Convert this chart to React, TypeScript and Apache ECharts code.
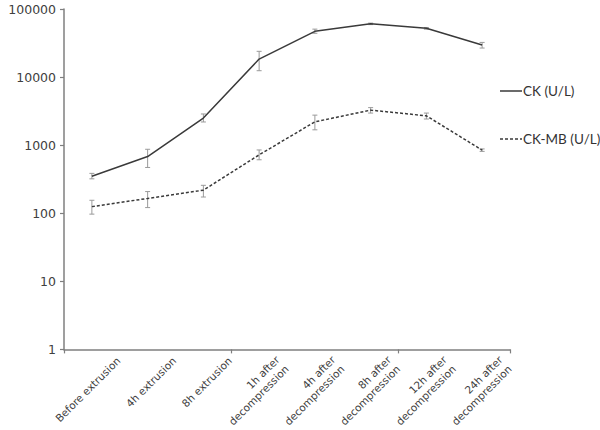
import React, { useEffect, useRef } from "react";
import * as echarts from "echarts";

const categories = [
  "Before extrusion",
  "4h extrusion",
  "8h extrusion",
  "1h after\ndecompression",
  "4h after\ndecompression",
  "8h after\ndecompression",
  "12h after\ndecompression",
  "24h after\ndecompression",
];
const ckValues = [350, 680, 2500, 18400, 47000, 60500, 52000, 29500];
const ckLow = [320, 470, 2190, 12400, 44000, 59000, 50500, 26700];
const ckHigh = [385, 870, 2870, 23900, 50600, 62000, 53500, 32300];
const mbValues = [125, 165, 218, 720, 2200, 3270, 2700, 845];
const mbLow = [97, 121, 173, 610, 1680, 2960, 2420, 810];
const mbHigh = [155, 208, 257, 850, 2760, 3560, 2960, 880];
const yTicks = [1, 10, 100, 1000, 10000, 100000];
const legendNames = ["CK (U/L)", "CK-MB (U/L)"];

const AXIS = "#7f7f7f";
const LINE = "#3a3a3a";
const ERR = "#9a9a9a";
const LABEL_FONT = { fontFamily: "DejaVu Sans", fontSize: 10.5, lineHeight: 13, color: "#404040" };

function errorSeries(low: number[], high: number[]) {
  return {
    type: "custom",
    silent: true,
    z: 1,
    encode: { x: 0, y: [1, 2] },
    data: low.map((l, i) => [i, l, high[i]]),
    renderItem: (params: any, api: any) => {
      const x = api.value(0);
      const lo = api.coord([x, api.value(1)]);
      const hi = api.coord([x, api.value(2)]);
      const w = 2.5;
      const style = { stroke: ERR, lineWidth: 1 };
      return {
        type: "group",
        children: [
          { type: "line", shape: { x1: lo[0], y1: lo[1], x2: hi[0], y2: hi[1] }, style },
          { type: "line", shape: { x1: lo[0] - w, y1: lo[1], x2: lo[0] + w, y2: lo[1] }, style },
          { type: "line", shape: { x1: hi[0] - w, y1: hi[1], x2: hi[0] + w, y2: hi[1] }, style },
        ],
      };
    },
  };
}

export default function App() {
  const ref = useRef<HTMLDivElement>(null);
  useEffect(() => {
    if (!ref.current) return;
    const chart = echarts.init(ref.current, undefined, { renderer: "svg" });
    chart.setOption({
      animation: false,
      backgroundColor: "#ffffff",
      grid: { left: 64, right: 90, top: 9, bottom: 80, containLabel: false },
      graphic: [
        {
          type: "line",
          shape: { x1: 500, y1: 91, x2: 522, y2: 91 },
          style: { stroke: LINE, lineWidth: 1.5 },
        },
        {
          type: "text",
          x: 523,
          y: 91,
          style: { text: legendNames[0], fontFamily: "Lato", fontSize: 13.5, fill: "#333", verticalAlign: "middle" },
        },
        {
          type: "line",
          shape: { x1: 500, y1: 139, x2: 522, y2: 139 },
          style: { stroke: LINE, lineWidth: 1.5, lineDash: [3, 2] },
        },
        {
          type: "text",
          x: 523,
          y: 139,
          style: { text: legendNames[1], fontFamily: "Lato", fontSize: 13.5, fill: "#333", verticalAlign: "middle" },
        },
      ],
      xAxis: [
        {
          type: "category",
          data: categories,
          boundaryGap: true,
          axisLine: { lineStyle: { color: AXIS, width: 1.5 } },
          axisTick: { show: true, length: 4, lineStyle: { color: AXIS, width: 1.2 } },
          axisLabel: { show: false },
          splitLine: { show: false },
        },
        {
          type: "category",
          data: ["", ...categories],
          boundaryGap: false,
          position: "bottom",
          axisLine: { show: false },
          axisTick: { show: false },
          axisLabel: {
            interval: 0,
            rotate: 45,
            margin: 8,
            ...LABEL_FONT,
            formatter: (v: string) => {
              if (!v) return "";
              if (v.indexOf("\n") >= 0)
                return v
                  .split("\n")
                  .map((s) => `{b|${s}}`)
                  .join("\n");
              return `{a|${v}}`;
            },
            rich: {
              a: { ...LABEL_FONT, padding: [0, 2, 0, 0] },
              b: { ...LABEL_FONT, padding: [0, 7, 0, 0] },
            },
          },
          splitLine: { show: false },
        },
      ],
      yAxis: {
        type: "log",
        logBase: 10,
        min: yTicks[0],
        max: yTicks[yTicks.length - 1],
        axisLine: { show: true, lineStyle: { color: AXIS, width: 1.5 } },
        axisTick: { show: true, length: 4, lineStyle: { color: AXIS, width: 1.2 } },
        axisLabel: {
          fontFamily: "DejaVu Sans",
          fontSize: 12.5,
          color: "#404040",
          margin: 8,
          formatter: (v: number) => String(Math.round(v)),
        },
        splitLine: { show: false },
      },
      series: [
        errorSeries(ckLow, ckHigh),
        errorSeries(mbLow, mbHigh),
        {
          name: legendNames[0],
          type: "line",
          data: ckValues,
          symbol: "none",
          z: 3,
          lineStyle: { color: LINE, width: 1.5, type: "solid" },
        },
        {
          name: legendNames[1],
          type: "line",
          data: mbValues,
          symbol: "none",
          z: 3,
          lineStyle: { color: LINE, width: 1.5, type: [3, 2] },
        },
      ],
    });
    return () => chart.dispose();
  }, []);
  return (
    <div
      ref={ref}
      style={{ position: "absolute", left: 0, top: 0, width: 600, height: 430 }}
    />
  );
}
